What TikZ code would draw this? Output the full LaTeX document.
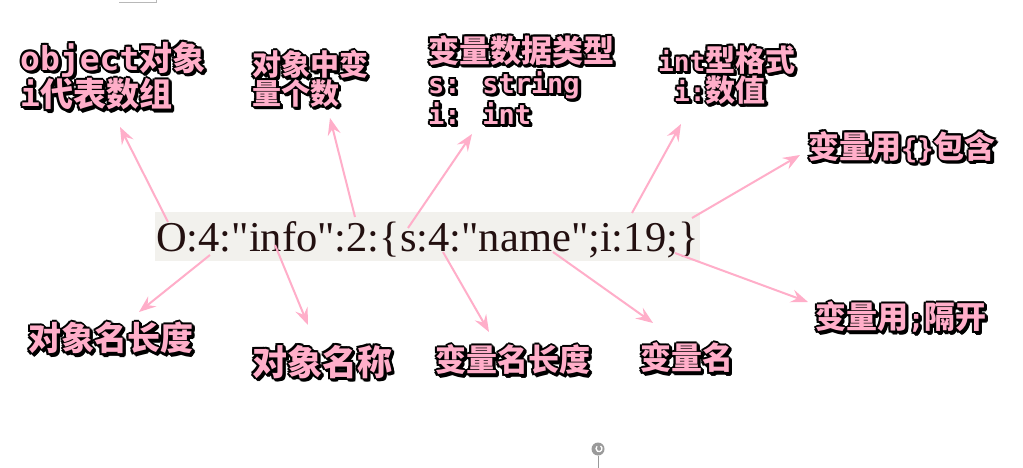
\documentclass[tikz,border=0pt]{standalone}
\usepackage{fontspec}
\usetikzlibrary{arrows.meta}
\newfontfamily\cjk{Noto Sans CJK SC}
\newfontfamily\monof{DejaVu Sans Mono}[Scale=0.87]
\newfontfamily\monoB{DejaVu Sans Mono}[Scale=1.0]
\newfontfamily\serif{Liberation Serif}
\definecolor{pinkc}{HTML}{FFAEC9}
\definecolor{bandc}{HTML}{F2F1ED}
\definecolor{strc}{HTML}{231010}
\definecolor{uigray}{HTML}{9A9A9A}
\newcommand\mo[1]{{\monof\bfseries #1}}
\newcommand\moB[1]{{\monoB\bfseries #1}}
\newcommand\olbl[5]{%
  \foreach \dx/\dy in {-2/0,2/0,0/2,0/-2,-1.5/1.5,1.5/1.5,-1.5/-1.5,1.5/-1.5,3/-3,2/-3.5,3.5/-2,1/-3,3/-1}{%
    \node[lblk,font=\cjk\bfseries\fontsize{#3}{#4}\selectfont,xshift=\dx pt,yshift=\dy pt] at #2 {#5};}%
  \node[lpink,font=\cjk\bfseries\fontsize{#3}{#4}\selectfont] (#1) at #2 {#5};}
\tikzset{
  lblk/.style={text=black, anchor=west, align=left, inner sep=0pt},
  lpink/.style={text=pinkc, anchor=west, align=left, inner sep=0pt},
  arr/.style={draw=pinkc, line width=2pt, -{Stealth[length=17pt,width=13pt,inset=6pt]}},
}
\begin{document}
\begin{tikzpicture}[x=1pt,y=-1pt]
\useasboundingbox (0,0) rectangle (1023,468);
\fill[white] (0,0) rectangle (1023,468);
% window artefacts
\draw[uigray!70, line width=0.8pt] (119,2.5) -- (156,2.5) -- (156,0);
\fill[uigray] (598,449) circle (6.5);
\draw[white, line width=1.3pt] (600.5,446) arc[start angle=-60, end angle=230, radius=3];
\draw[uigray, line width=0.8pt] (598,455.5) -- (598,468);
% serialized string
\node[fill=bandc, minimum width=545pt, minimum height=49pt, anchor=north west, inner sep=0pt] (band) at (155,212) {};
\node[anchor=base west, inner sep=0pt, text=strc, font=\serif\fontsize{42.5}{42.5}\selectfont] (str) at (156,251) {O:4:"info":2:\{s:4:"name";i:19;\}};
% labels
\olbl{l1}{(20,76)}{33}{35}{\moB{object}对象\\\moB{i}代表数组}
\olbl{l2}{(252,79)}{29}{27}{对象中变\\量个数}
\olbl{l3}{(428,80)}{31}{31}{变量数据类型\\\mo{s: string}\\\mo{i: int}}
\olbl{l4}{(658,75)}{30}{30}{\mo{int}型格式\\\hspace*{16pt}\mo{i:}数值}
\olbl{l5}{(808,147)}{31}{31}{变量用\mo{\{\}}包含}
\olbl{l6}{(28,338)}{33}{33}{对象名长度}
\olbl{l7}{(252,362)}{35}{35}{对象名称}
\olbl{l8}{(435,360)}{31}{31}{变量名长度}
\olbl{l9}{(640,358)}{31}{31}{变量名}
\olbl{l10}{(815,317)}{31}{31}{变量用\mo{;}隔开}
% arrow coordinates
\coordinate (s1) at (168,222);  \coordinate (t1) at (120,127);
\coordinate (s2) at (355,217);  \coordinate (t2) at (330,118);
\coordinate (s3) at (408,228);  \coordinate (t3) at (472,134);
\coordinate (s4) at (632,213);  \coordinate (t4) at (681,124);
\coordinate (s5) at (692,218);  \coordinate (t5) at (800,155);
\coordinate (s6) at (210,255);  \coordinate (t6) at (139,312);
\coordinate (s7) at (275,245);  \coordinate (t7) at (308,325);
\coordinate (s8) at (443,252);  \coordinate (t8) at (489,332);
\coordinate (s9) at (553,252);  \coordinate (t9) at (653,323);
\coordinate (s10) at (675,253); \coordinate (t10) at (808,302);
\foreach \i in {1,...,10}{\draw[arr] (s\i) -- (t\i);}
\end{tikzpicture}
\end{document}
